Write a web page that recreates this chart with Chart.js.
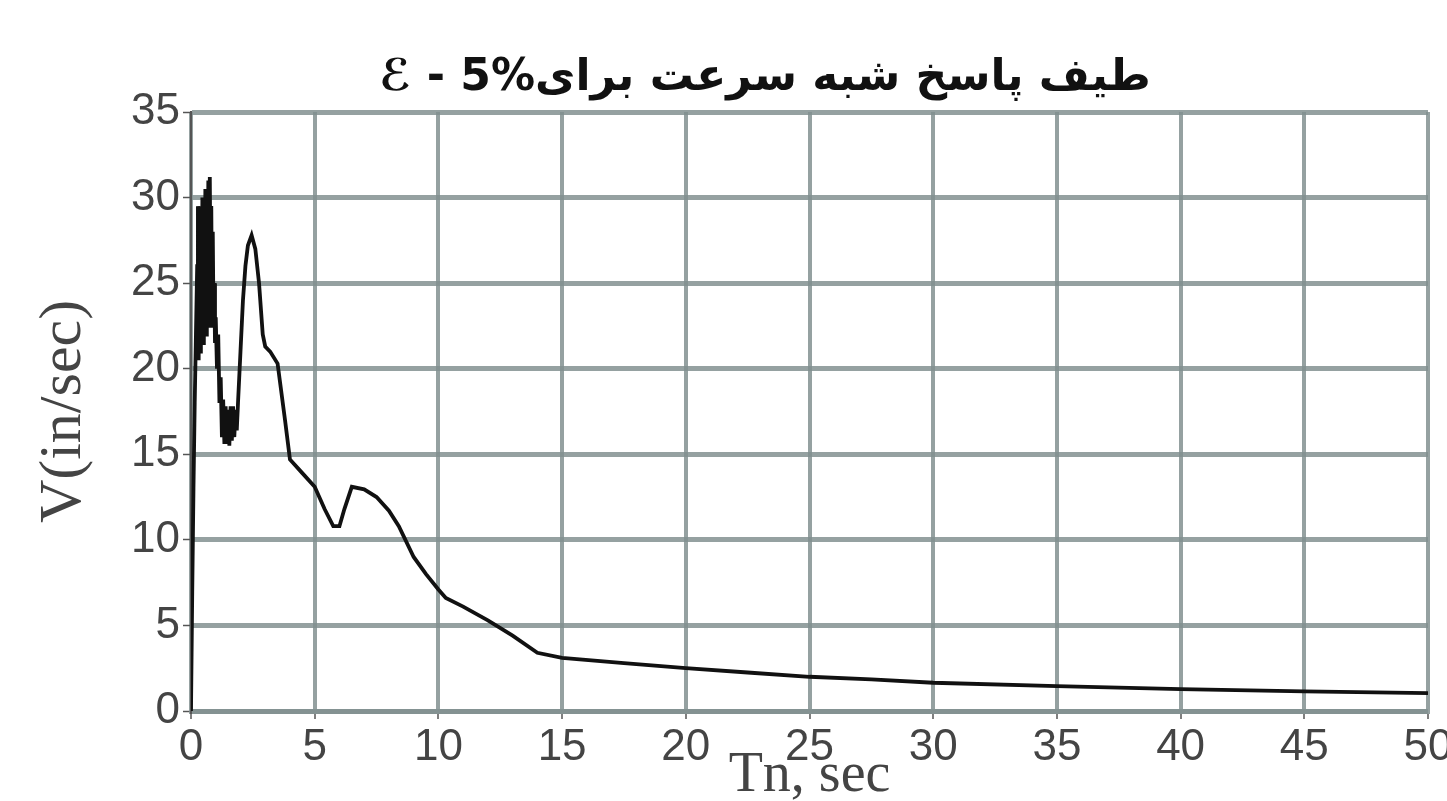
<!DOCTYPE html>
<html>
<head>
<meta charset="utf-8">
<script src="https://cdn.jsdelivr.net/npm/chart.js@4.4.1/dist/chart.umd.min.js"></script>
<style>
  html, body { margin: 0; padding: 0; background: #fff; }
  #wrap { width: 1447px; height: 801px; }
</style>
</head>
<body>
<div id="wrap"><canvas id="chart"></canvas></div>
<script>
// Pseudo-velocity response spectrum, 5% damping
const chartTitle = 'ℰ - 5%طیف پاسخ شبه سرعت برای';
const xTitle = 'Tn, sec';
const yTitle = 'V(in/sec)';

// period (sec)
const periods = [
    0, 0.05, 0.1, 0.15, 0.2, 0.25, 0.28, 0.31, 0.34, 0.37,
    0.4, 0.43, 0.46, 0.49, 0.52, 0.55, 0.58, 0.61, 0.64, 0.67,
    0.7, 0.73, 0.76, 0.79, 0.82, 0.85, 0.88, 0.91, 0.94, 0.97,
    1.0, 1.05, 1.1, 1.15, 1.2, 1.25, 1.3, 1.35, 1.4, 1.45,
    1.5, 1.55, 1.6, 1.65, 1.7, 1.75, 1.8, 1.85, 1.9, 2.0,
    2.1, 2.2, 2.3, 2.45, 2.6, 2.75, 2.9, 3.0, 3.2, 3.5,
    3.8, 4.0, 4.5, 5.0, 5.4, 5.75, 6.0, 6.2, 6.5, 7.0,
    7.5, 8.0, 8.4, 9.0, 9.5, 10.0, 10.3, 11, 12, 13,
    14, 15, 17.5, 20, 22.5, 25, 27.5, 30, 35, 40, 45, 50
];

// pseudo-velocity (in/sec)
const velocities = [
    0, 7, 13, 18, 22, 26, 29.5, 20.5, 29, 21,
    29.5, 22, 30, 21.5, 29.5, 23, 30.5, 22, 30, 24,
    31, 22.5, 31.2, 25, 29.5, 22.5, 28, 22.8, 25, 21.5,
    23, 20, 22, 18, 19.5, 16, 18.2, 15.6, 17.8, 15.6,
    17.6, 15.5, 17.8, 15.8, 17.8, 16, 17.6, 16.4, 18, 21,
    24, 26, 27.2, 27.8, 27, 25, 22, 21.3, 21, 20.3,
    17, 14.7, 13.9, 13.1, 11.8, 10.8, 10.8, 11.8, 13.1, 12.95,
    12.5, 11.7, 10.8, 9.0, 8.0, 7.1, 6.6, 6.1, 5.3, 4.4,
    3.4, 3.1, 2.8, 2.5, 2.25, 2.0, 1.85, 1.65, 1.45, 1.28, 1.15, 1.05
];

const gridColor = 'rgba(130, 145, 145, 0.85)';
const tickFont = { family: "'Liberation Sans Narrow', 'Liberation Sans', Arial, sans-serif", size: 44 };
const titleFont = { family: "'Liberation Serif', 'Times New Roman', serif", size: 56, lineHeight: 0.9 };

const points = periods.map((t, i) => ({ x: t, y: velocities[i] }));

new Chart(document.getElementById('chart'), {
    type: 'line',
    data: {
        datasets: [{
            data: points,
            borderColor: '#111',
            borderWidth: 3.8,
            pointRadius: 0,
            tension: 0,
            fill: false
        }]
    },
    options: {
        responsive: true,
        maintainAspectRatio: false,
        animation: false,
        layout: { padding: { left: 102, right: 19, top: 0, bottom: 0 } },
        plugins: {
            legend: { display: false },
            tooltip: { enabled: false },
            title: {
                display: true,
                text: chartTitle,
                color: '#111',
                font: { family: "'DejaVu Sans', sans-serif", size: 44, weight: 'bold', lineHeight: 1.2 },
                padding: { top: 52, bottom: 7.2 }
            }
        },
        scales: {
            x: {
                type: 'linear',
                min: 0,
                max: 50,
                ticks: { stepSize: 5, color: '#444', font: tickFont, padding: 2, maxRotation: 0 },
                grid: { color: gridColor, lineWidth: 4, tickLength: 8, tickColor: '#555', tickWidth: 1.5 },
                border: { color: gridColor, width: 5 },
                title: { display: true, text: xTitle, color: '#444', font: titleFont, padding: { top: 0, bottom: 0 } },
                afterFit: function (scale) {
                    scale.height = 90;
                    scale.paddingRight = 0;
                }
            },
            y: {
                min: 0,
                max: 35,
                ticks: { stepSize: 5, color: '#444', font: tickFont, padding: 3 },
                grid: { color: gridColor, lineWidth: 5, tickLength: 8, tickColor: '#555', tickWidth: 1.5 },
                border: { color: '#555', width: 2 },
                title: {
                    display: true,
                    text: yTitle,
                    color: '#444',
                    font: { family: "'Liberation Serif', 'Times New Roman', serif", size: 60, lineHeight: 1 },
                    padding: { top: -68, bottom: 0 }
                },
                afterFit: function (scale) { scale.width = 89; }
            }
        }
    }
});
</script>
</body>
</html>
